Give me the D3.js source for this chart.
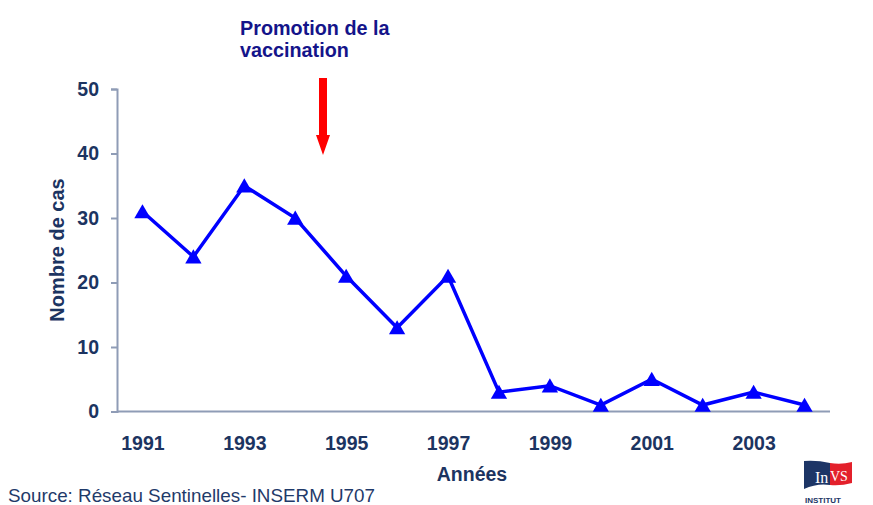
<!DOCTYPE html>
<html>
<head>
<meta charset="utf-8">
<script src="https://cdn.jsdelivr.net/npm/d3@7"></script>
<style>
  body { margin: 0; background: #fff; }
  svg { display: block; font-family: Arial, "Liberation Sans", sans-serif; }
</style>
</head>
<body>
<svg id="chart" width="873" height="505"></svg>
<script>
// données
const annees = ["1991","1992","1993","1994","1995","1996","1997","1998","1999","2000","2001","2002","2003","2004"];
const cas = [31, 24, 35, 30, 21, 13, 21, 3, 4, 1, 5, 1, 3, 1];
const yTicks = [0, 10, 20, 30, 40, 50];
const xLabels = ["1991","1993","1995","1997","1999","2001","2003"];

const svg = d3.select("#chart");
const mLeft = 117, mRight = 830, mTop = 89, mBottom = 411.5;
const navy = "#1c3461";
const axisCol = "#8f9cb6";
const fs = 19.5;

const x = d3.scalePoint().domain(annees).range([mLeft, mRight]).padding(0.5);
const y = d3.scaleLinear().domain([0, 50]).range([mBottom, mTop]);

// axe y
const gy = svg.append("g")
  .attr("transform", `translate(${mLeft},0)`)
  .call(d3.axisLeft(y).tickValues(yTicks).tickSize(6).tickPadding(12));
gy.select(".domain").attr("stroke", axisCol).attr("stroke-width", 2);
gy.selectAll(".tick line").attr("stroke", axisCol).attr("stroke-width", 2);
gy.selectAll(".tick text")
  .attr("fill", navy).attr("font-size", fs).attr("font-weight", "bold")
  .attr("font-family", "Arial, 'Liberation Sans', sans-serif");

// axe x
const gx = svg.append("g")
  .attr("transform", `translate(0,${mBottom})`)
  .call(d3.axisBottom(x).tickSize(0).tickPadding(24.5)
    .tickFormat(d => xLabels.includes(d) ? d : ""));
gx.select(".domain").attr("stroke", axisCol).attr("stroke-width", 2)
  .attr("d", `M${mLeft},0H${mRight}`);
gx.selectAll(".tick text")
  .attr("fill", navy).attr("font-size", fs).attr("font-weight", "bold")
  .attr("font-family", "Arial, 'Liberation Sans', sans-serif");

// titres des axes
svg.append("text")
  .attr("transform", "translate(64,250) rotate(-90)")
  .attr("text-anchor", "middle")
  .attr("fill", navy).attr("font-size", 20).attr("font-weight", "bold")
  .text("Nombre de cas");

svg.append("text")
  .attr("x", 472).attr("y", 481)
  .attr("text-anchor", "middle")
  .attr("fill", navy).attr("font-size", fs).attr("font-weight", "bold")
  .text("Années");

// ligne
const line = d3.line().x((d, i) => x(annees[i])).y(d => y(d));
svg.append("path")
  .datum(cas)
  .attr("d", line)
  .attr("fill", "none")
  .attr("stroke", "#0000ff")
  .attr("stroke-width", 3.5)
  .attr("stroke-linejoin", "miter");

const tri = d3.symbol().type(d3.symbolTriangle).size(115);
svg.selectAll(".pt")
  .data(cas)
  .join("path")
  .attr("class", "pt")
  .attr("transform", (d, i) => `translate(${x(annees[i])},${y(d) + 2})`)
  .attr("d", tri)
  .attr("fill", "#0000ff");

// annotation
svg.append("text")
  .attr("x", 240).attr("y", 35)
  .attr("fill", "#14148a").attr("font-size", 19.8).attr("font-weight", "bold")
  .text("Promotion de la");
svg.append("text")
  .attr("x", 240).attr("y", 57)
  .attr("fill", "#14148a").attr("font-size", 19.8).attr("font-weight", "bold")
  .text("vaccination");

const ax = 323;
svg.append("path")
  .attr("d", `M${ax-4},78 H${ax+4} V135 H${ax+7} L${ax},155 L${ax-7},135 H${ax-4} Z`)
  .attr("fill", "#ff0000");

// source
svg.append("text")
  .attr("x", 8).attr("y", 502)
  .attr("fill", "#1f3a6a").attr("font-size", 18.5)
  .attr("textLength", 367).attr("lengthAdjust", "spacingAndGlyphs")
  .text("Source: Réseau Sentinelles- INSERM U707");

// logo InVS
const logo = svg.append("g").attr("transform", "translate(804,461)");
logo.append("path")
  .attr("d", "M0,0 Q13,-1 26,2 V24 Q13,22 0,28 Z")
  .attr("fill", "#1d3566");
logo.append("path")
  .attr("d", "M26,2 Q37,4 48,1 V22 Q37,25 26,24 Z")
  .attr("fill", "#e3202b");
logo.append("text")
  .attr("x", 11).attr("y", 22)
  .attr("fill", "#fff").attr("font-size", 16)
  .attr("font-family", "'Liberation Serif', serif")
  .text("In");
logo.append("text")
  .attr("x", 26).attr("y", 20)
  .attr("fill", "#fff").attr("font-size", 14)
  .attr("font-family", "'Liberation Serif', serif")
  .text("VS");
logo.append("text")
  .attr("x", 1).attr("y", 42)
  .attr("fill", "#1d3566").attr("font-size", 8).attr("font-weight", "bold")
  .text("INSTITUT");
</script>
</body>
</html>
